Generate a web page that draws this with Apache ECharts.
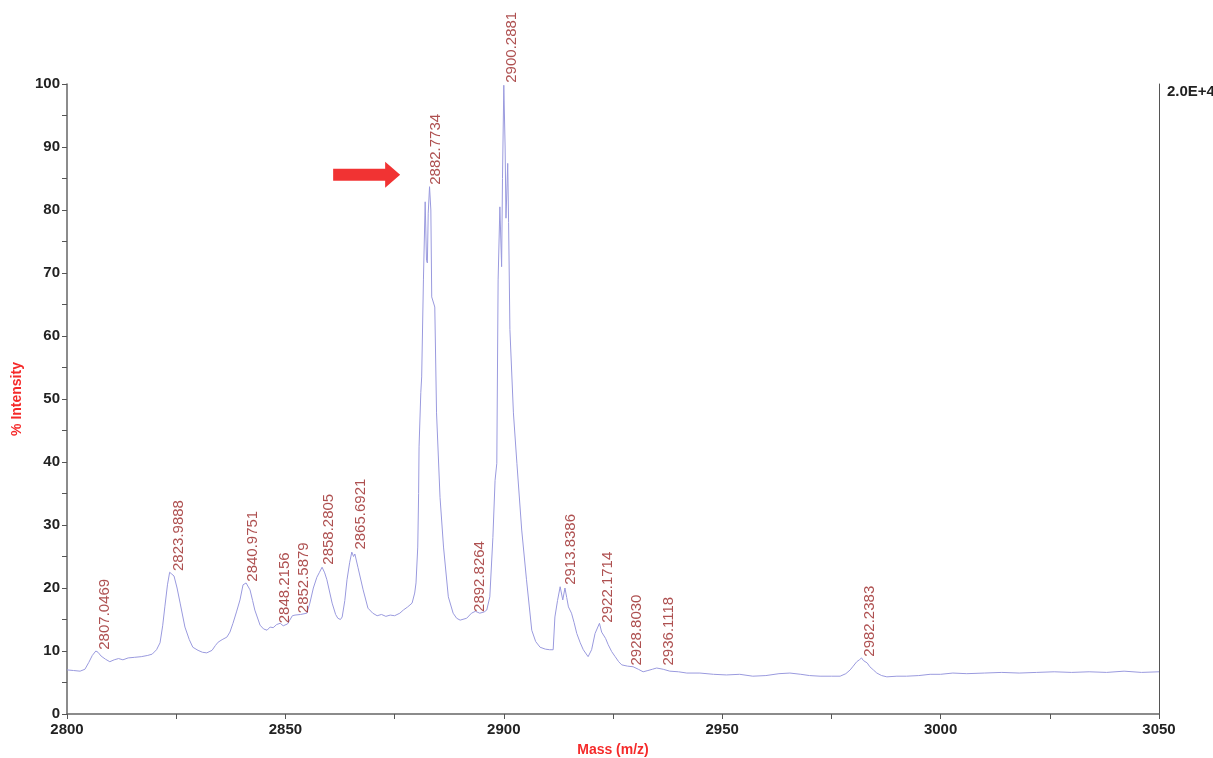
<!DOCTYPE html>
<html lang="en">
<head>
    <meta charset="UTF-8">
    <title>Mass spectrum</title>
    <script src="https://cdn.jsdelivr.net/npm/echarts@6/dist/echarts.min.js"></script>
    <style>
        body { margin: 0; background: #fff; }
    </style>
</head>
<body>
<div id="main" style="width: 1213px;height:758px;"></div>
<script>
    // spectrum trace (m/z, % intensity)
    var mzValues = [
        2800.0, 2801.5, 2803.0, 2804.1, 2805.0, 2805.8, 2806.6, 2807.1, 2807.8, 2808.8,
        2809.8, 2810.8, 2811.8, 2812.8, 2814.0, 2815.5, 2817.0, 2818.5, 2819.5, 2820.5,
        2821.3, 2821.9, 2822.4, 2823.0, 2823.5, 2824.0, 2824.5, 2825.2, 2825.9, 2827.0,
        2828.0, 2828.8, 2830.0, 2831.0, 2832.0, 2833.2, 2834.0, 2834.6, 2835.5, 2836.6,
        2837.3, 2838.0, 2838.8, 2839.6, 2840.3, 2841.0, 2841.9, 2842.5, 2843.0, 2844.2,
        2845.0, 2845.8, 2846.5, 2847.2, 2848.0, 2848.8, 2849.5, 2849.9, 2850.5, 2851.0,
        2851.6, 2852.2, 2853.5, 2854.9, 2855.6, 2856.4, 2857.2, 2857.8, 2858.4, 2859.0,
        2859.5, 2860.7, 2861.5, 2862.0, 2862.6, 2863.0, 2863.6, 2864.1, 2864.7, 2865.2,
        2865.6, 2865.9, 2866.6, 2867.8, 2868.9, 2870.0, 2871.0, 2872.0, 2873.0, 2874.0,
        2875.0, 2876.2, 2877.0, 2878.0, 2879.0, 2879.6, 2879.9, 2880.3, 2880.5, 2880.6,
        2881.0, 2881.2, 2881.6, 2882.0, 2882.3, 2882.5, 2882.7, 2883.0, 2883.3, 2883.5,
        2884.2, 2884.6, 2885.4, 2886.2, 2887.3, 2888.4, 2889.2, 2890.0, 2891.5, 2892.6,
        2893.5, 2894.5, 2895.5, 2896.1, 2896.8, 2897.5, 2898.0, 2898.4, 2898.7, 2899.1,
        2899.5, 2899.7, 2900.0, 2900.3, 2900.5, 2900.9, 2901.1, 2901.4, 2902.2, 2903.0,
        2904.1, 2905.2, 2906.4, 2907.3, 2908.3, 2909.5, 2910.5, 2911.3, 2911.7, 2912.3,
        2912.9, 2913.5, 2914.0, 2914.4, 2914.8, 2915.5, 2916.1, 2916.7, 2917.5, 2918.2,
        2919.3, 2920.1, 2920.9, 2921.9, 2922.4, 2922.8, 2923.3, 2923.9, 2924.7, 2925.5,
        2926.3, 2927.0, 2928.3, 2929.6, 2930.8, 2931.9, 2933.0, 2934.0, 2935.0, 2936.5,
        2938.0, 2940.0, 2941.9, 2944.9, 2948.0, 2951.0, 2954.0, 2957.0, 2960.0, 2963.0,
        2965.5, 2968.0, 2970.0, 2972.4, 2975.0, 2977.0, 2978.3, 2979.3, 2980.0, 2980.8,
        2981.4, 2981.9, 2982.3, 2982.7, 2983.2, 2983.8, 2984.6, 2985.4, 2986.5, 2987.7,
        2990.0, 2992.2, 2995.0, 2997.6, 3000.0, 3002.8, 3006.0, 3010.0, 3014.0, 3018.0,
        3022.0, 3026.0, 3030.0, 3034.0, 3038.0, 3042.0, 3046.0, 3050.0
    ];
    var intensityValues = [
        7.0, 6.9, 6.8, 7.1, 8.2, 9.3, 10.0, 9.8, 9.2, 8.7,
        8.3, 8.6, 8.8, 8.6, 8.9, 9.0, 9.1, 9.3, 9.5, 10.2,
        11.3, 14.0, 17.0, 20.5, 22.5, 22.2, 21.9, 20.0, 17.6, 13.8,
        11.8, 10.6, 10.1, 9.8, 9.7, 10.1, 10.9, 11.4, 11.8, 12.2,
        13.0, 14.4, 16.2, 18.1, 20.5, 20.8, 19.7, 18.0, 16.5, 14.1,
        13.5, 13.3, 13.8, 13.7, 14.2, 14.4, 14.0, 13.8, 14.3, 14.9,
        15.6, 15.7, 15.8, 16.0, 17.6, 20.0, 21.7, 22.5, 23.3, 22.4,
        21.3, 17.6, 15.8, 15.2, 15.0, 15.4, 18.0, 21.3, 24.0, 25.7,
        25.0, 25.4, 23.3, 19.7, 16.8, 16.0, 15.6, 15.8, 15.5, 15.7,
        15.6, 16.0, 16.5, 17.0, 17.6, 19.2, 20.8, 26.5, 35.0, 42.4,
        51.0, 53.5, 68.9, 81.3, 72.0, 71.6, 79.5, 83.7, 80.0, 66.2,
        64.6, 47.8, 34.4, 26.5, 18.6, 16.0, 15.2, 14.9, 15.2, 16.0,
        16.3, 16.0, 16.2, 16.5, 18.6, 28.0, 37.1, 39.8, 68.9, 80.5,
        71.0, 85.0, 99.8, 90.0, 78.7, 87.4, 78.0, 61.0, 47.8, 39.8,
        29.2, 21.3, 13.3, 11.5, 10.6, 10.3, 10.2, 10.2, 15.4, 18.0,
        20.2, 18.1, 20.0, 18.5, 17.0, 16.0, 14.5, 12.8, 11.3, 10.2,
        9.1, 10.2, 12.8, 14.4, 13.0, 13.3, 12.0, 11.0, 9.9, 9.1,
        8.3, 7.8, 7.6, 7.5, 7.1, 6.7, 6.9, 7.1, 7.3, 7.1,
        6.8, 6.7, 6.5, 6.5, 6.3, 6.2, 6.3, 6.0, 6.1, 6.4,
        6.5, 6.3, 6.1, 6.0, 6.0, 6.0, 6.4, 7.0, 7.6, 8.3,
        8.6, 8.9, 8.5, 8.6, 8.1, 7.5, 7.0, 6.5, 6.1, 5.9,
        6.0, 6.0, 6.1, 6.3, 6.3, 6.5, 6.4, 6.5, 6.6, 6.5,
        6.6, 6.7, 6.6, 6.7, 6.6, 6.8, 6.6, 6.7
    ];

    // peak labels: text and the intensity where the label starts
    var peakLabels = ['2807.0469', '2823.9888', '2840.9751', '2848.2156', '2852.5879',
        '2858.2805', '2865.6921', '2882.7734', '2892.8264', '2900.2881',
        '2913.8386', '2922.1714', '2928.8030', '2936.1118', '2982.2383'];
    var peakBase = [10.2, 22.7, 21.0, 14.4, 16.0, 23.7, 26.1, 84.0, 16.2, 100.2,
        20.5, 14.5, 7.7, 7.7, 9.1];

    var arrowAt = [2868.6, 85.6];

    var spectrum = mzValues.map(function (m, i) { return [m, intensityValues[i]]; });
    var peaks = peakLabels.map(function (t, i) { return [parseFloat(t), peakBase[i], t]; });

    var font = 'Liberation Sans, Arial, sans-serif';
    var myChart = echarts.init(document.getElementById('main'));
    var option = {
        animation: false,
        grid: { left: 67, right: 54, top: 84, bottom: 44, containLabel: false, outerBoundsMode: 'none' },
        xAxis: {
            type: 'value',
            min: 2800,
            max: 3050,
            interval: 50,
            name: 'Mass (m/z)',
            nameLocation: 'middle',
            nameGap: 29,
            nameTextStyle: { color: '#f52a2a', fontWeight: 'bold', fontSize: 14, fontFamily: font },
            axisLine: { lineStyle: { color: '#666', width: 1.5 } },
            axisTick: { length: 5, lineStyle: { color: '#555' } },
            minorTick: { show: true, splitNumber: 2, length: 5, lineStyle: { color: '#555' } },
            splitLine: { show: false },
            axisLabel: {
                color: '#222', fontWeight: 'bold', fontSize: 15, fontFamily: font, margin: 8,
                formatter: function (v) { return String(v); }
            }
        },
        yAxis: [{
            type: 'value',
            min: 0,
            max: 100,
            interval: 10,
            name: '% Intensity',
            nameLocation: 'middle',
            nameGap: 42,
            nameTextStyle: { color: '#f52a2a', fontWeight: 'bold', fontSize: 14, fontFamily: font },
            axisLine: { show: true, lineStyle: { color: '#666', width: 1.5 } },
            axisTick: { show: true, length: 5, lineStyle: { color: '#555' } },
            minorTick: { show: true, splitNumber: 2, length: 5, lineStyle: { color: '#555' } },
            splitLine: { show: false },
            axisLabel: { color: '#222', fontWeight: 'bold', fontSize: 15, fontFamily: font, margin: 7 }
        }, {
            type: 'value',
            position: 'right',
            min: 0,
            max: 1,
            interval: 1,
            axisLine: { show: true, lineStyle: { color: '#555', width: 1 } },
            axisTick: { show: false },
            splitLine: { show: false },
            axisLabel: {
                showMaxLabel: true,
                color: '#222', fontWeight: 'bold', fontSize: 15, fontFamily: font,
                margin: 8, verticalAlign: 'top',
                formatter: function (v) { return v === 1 ? '2.0E+4' : ''; }
            }
        }],
        series: [{
            name: 'spectrum',
            type: 'line',
            data: spectrum,
            showSymbol: false,
            symbol: 'none',
            lineStyle: { color: '#9a9ade', width: 1 },
            z: 2
        }, {
            name: 'peaks',
            type: 'scatter',
            data: peaks,
            clip: false,
            symbolSize: 1,
            itemStyle: { color: 'transparent' },
            label: {
                show: true,
                position: 'inside',
                rotate: 90,
                align: 'left',
                verticalAlign: 'middle',
                offset: [0, 7],
                color: '#9a2424',
                fontSize: 15,
                fontFamily: font,
                formatter: function (p) { return p.data[2]; }
            },
            z: 3
        }, {
            name: 'arrow',
            type: 'scatter',
            data: [arrowAt],
            symbol: 'path://M0,7L52,7L52,0L67,13L52,26L52,19L0,19Z',
            symbolSize: [67, 26],
            itemStyle: { color: '#ee0000' },
            z: 4
        }]
    };
    myChart.setOption(option);
</script>
</body>
</html>
